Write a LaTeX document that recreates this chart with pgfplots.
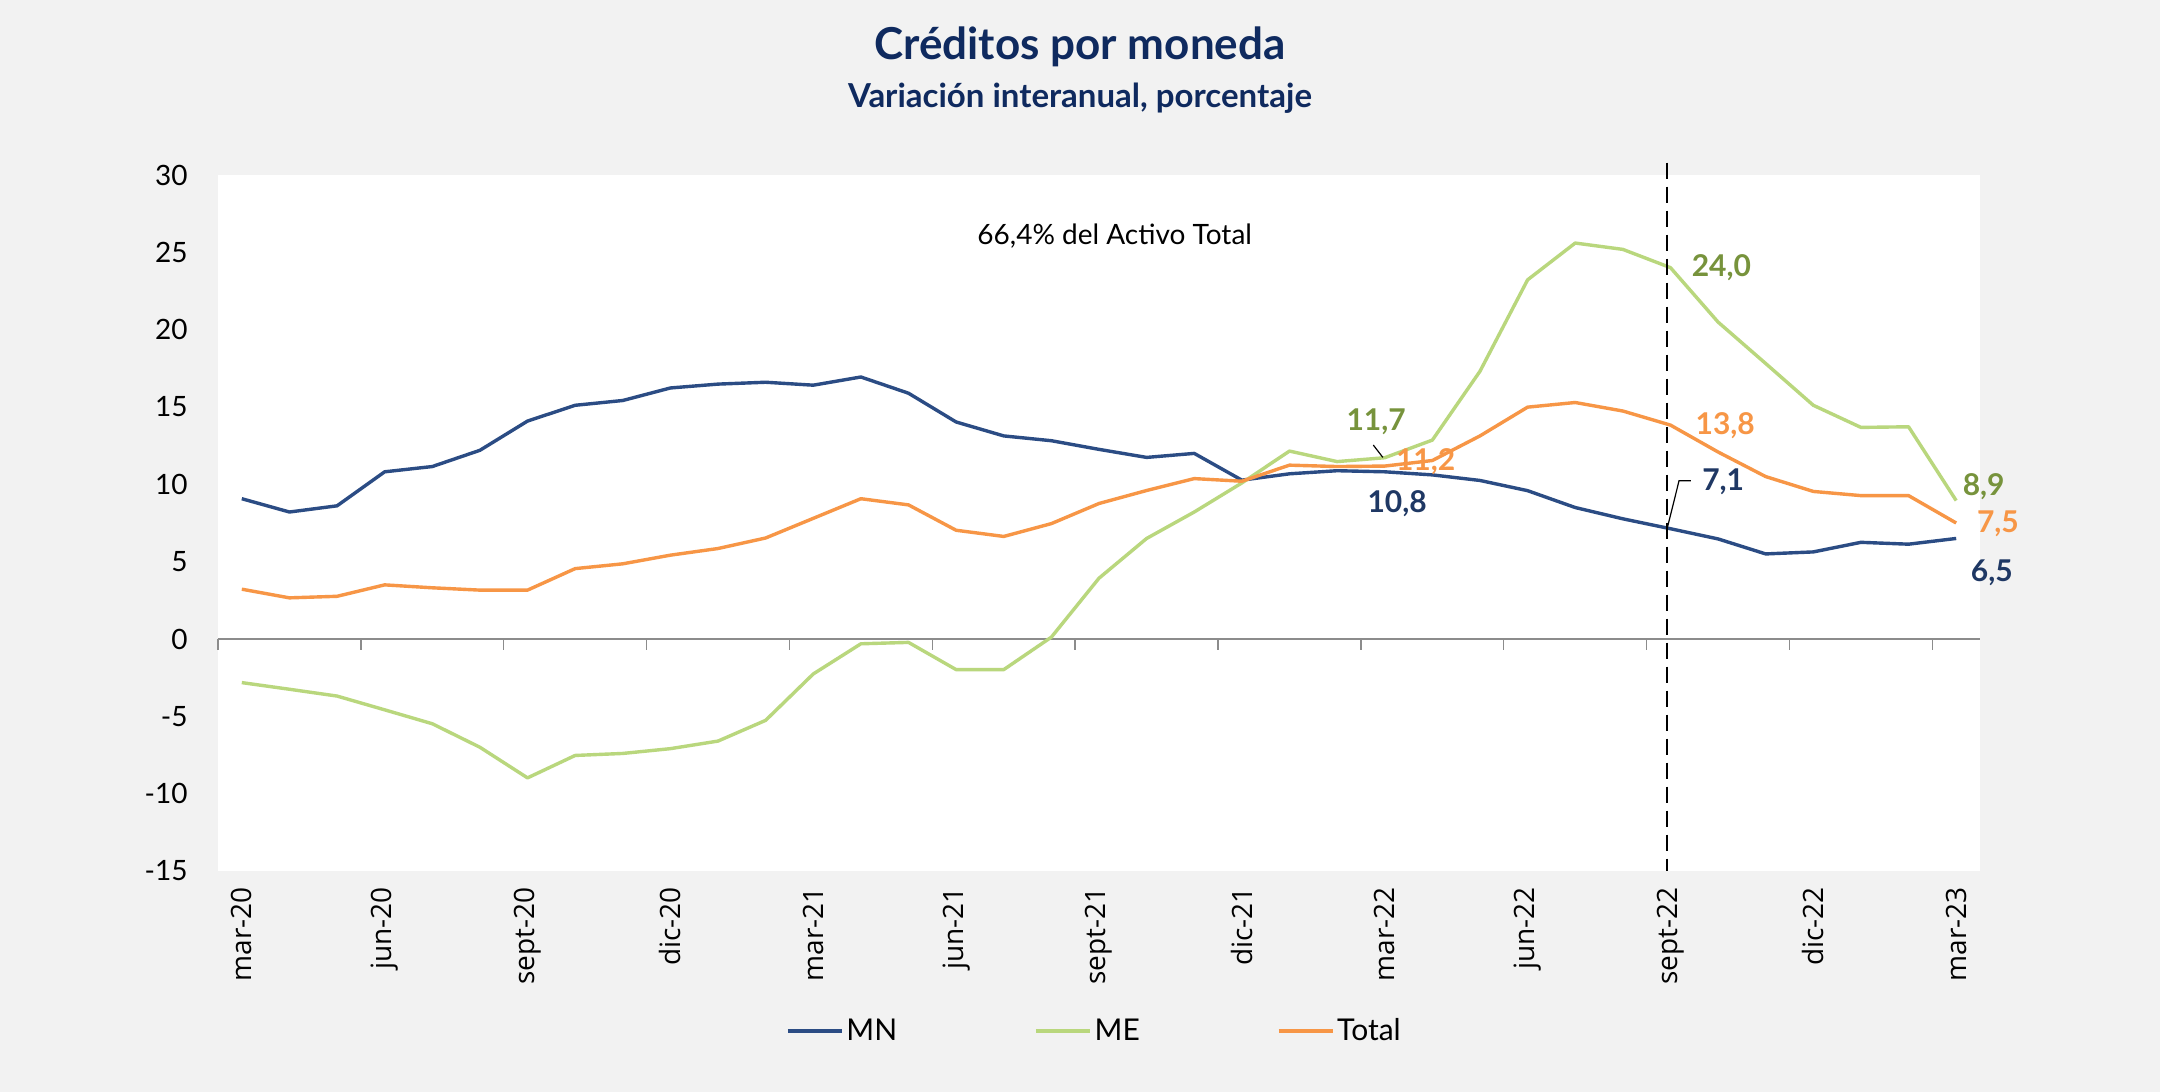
\documentclass[border=0pt]{standalone}
\usepackage{pgfplots}
\pgfplotsset{compat=1.18}
\usepackage{pgfplotstable}
\usepackage{fontspec}
\setmainfont{Lato}
\newfontfamily\xfont{Open Sans}
\definecolor{bg}{HTML}{F2F2F2}
\definecolor{mn}{HTML}{2B4C84}
\definecolor{me}{HTML}{B9D77D}
\definecolor{tot}{HTML}{F79646}
\definecolor{mnlab}{HTML}{1F3864}
\definecolor{melab}{HTML}{77933C}
\definecolor{ttl}{HTML}{0F2A5F}

\pgfplotstableread{
idx MN ME Total
0 9.07 -2.82 3.22
1 8.21 -3.25 2.66
2 8.61 -3.69 2.76
3 10.81 -4.58 3.50
4 11.15 -5.48 3.31
5 12.20 -7.00 3.16
6 14.09 -8.98 3.16
7 15.11 -7.53 4.55
8 15.42 -7.40 4.86
9 16.23 -7.09 5.42
10 16.48 -6.60 5.85
11 16.60 -5.26 6.53
12 16.41 -2.26 7.80
13 16.94 -0.31 9.07
14 15.89 -0.22 8.67
15 14.03 -1.98 7.03
16 13.13 -1.98 6.63
17 12.82 0.12 7.46
18 12.26 3.93 8.76
19 11.74 6.50 9.60
20 12.00 8.21 10.37
21 10.27 10.09 10.20
22 10.68 12.15 11.24
23 10.88 11.47 11.15
24 10.81 11.72 11.18
25 10.61 12.86 11.54
26 10.25 17.31 13.13
27 9.59 23.22 14.99
28 8.50 25.60 15.29
29 7.77 25.19 14.74
30 7.13 24.01 13.83
31 6.47 20.49 12.09
32 5.50 17.81 10.50
33 5.63 15.11 9.54
34 6.25 13.68 9.27
35 6.13 13.72 9.27
36 6.50 8.95 7.50
}\data

\begin{document}
\begin{tikzpicture}
\fill[bg] (0,0) rectangle (1080pt,546pt);
\node[font=\bfseries\fontsize{22}{26}\selectfont, text=ttl, anchor=base] at (540pt,516.4pt) {Créditos por moneda};
\node[font=\bfseries\fontsize{16.5}{19}\selectfont, text=ttl, anchor=base] at (540pt,492.3pt) {Variación interanual, porcentaje};
\begin{axis}[
  at={(109pt,110.5pt)}, anchor=south west,
  scale only axis, width=881pt, height=348pt,
  xmin=-0.5, xmax=36.5, ymin=-15, ymax=30,
  axis line style={draw=none},
  axis background/.style={fill=white},
  xtick={0,3,...,36},
  xticklabels={mar-20,jun-20,sept-20,dic-20,mar-21,jun-21,sept-21,dic-21,mar-22,jun-22,sept-22,dic-22,mar-23},
  ytick={-15,-10,...,30},
  major tick length=0pt,
  tick style={draw=none},
  xticklabel style={rotate=90, anchor=east, font=\xfont\fontsize{14}{16}\selectfont, inner sep=0pt},
  xticklabel shift=8pt,
  yticklabel style={anchor=east, font=\fontsize{14}{16}\selectfont, inner sep=0pt},
  yticklabel shift=15pt,
  /pgf/number format/assume math mode=true,
  clip=false,
  legend columns=3,
  legend image code/.code={\draw[#1] (0pt,0pt) -- (27pt,0pt);},
  legend style={draw=none, fill=none, at={(0.3224,-0.2299)}, anchor=west,
    inner sep=0pt, outer sep=0pt, font=\fontsize{15}{18}\selectfont,
    nodes={inner xsep=1.5pt, inner ysep=1pt},
    /tikz/every even column/.append style={column sep=67pt}},
]
\draw[color=black!45, line width=0.7pt] (axis cs:-0.5,0) -- (axis cs:36.5,0);
\pgfplotsinvokeforeach{0,...,12}{
  \draw[color=black!45, line width=0.7pt] (axis cs:{-0.5+3*#1},0) -- ++(0pt,-5.3pt);
}
\addplot[mn, line width=1.7pt, line join=round] table[x=idx, y=MN] {\data};
\addlegendentry{MN}
\addplot[me, line width=1.7pt, line join=round] table[x=idx, y=ME] {\data};
\addlegendentry{ME}
\addplot[tot, line width=1.7pt, line join=round] table[x=idx, y=Total] {\data};
\addlegendentry{Total}
\draw[black, line width=1.3pt, dash pattern=on 8pt off 4pt] (axis cs:29.93,30.8) -- (axis cs:29.93,-15);
\node[font=\fontsize{14}{16}\selectfont] at (axis cs:18.33,26.06) {66,4\% del Activo Total};
\node[anchor=west, font=\bfseries\fontsize{15}{18}\selectfont, text=melab, inner sep=0pt] at (axis cs:30.44,23.98) {24,0};
\node[anchor=west, font=\bfseries\fontsize{15}{18}\selectfont, text=tot, inner sep=0pt] at (axis cs:30.52,13.8) {13,8};
\node[anchor=west, font=\bfseries\fontsize{15}{18}\selectfont, text=mnlab, inner sep=0pt] at (axis cs:30.66,10.15) {7,1};
\draw[black, line width=0.6pt] (axis cs:29.93,7.13) -- (axis cs:30.18,10.23) -- (axis cs:30.43,10.23);
\node[font=\bfseries\fontsize{15}{18}\selectfont, text=melab, inner sep=0pt] at (axis cs:23.82,14.07) {11,7};
\draw[black, line width=0.6pt] (axis cs:23.76,12.54) -- (axis cs:23.96,11.74);
\node[font=\bfseries\fontsize{15}{18}\selectfont, text=tot, inner sep=0pt] at (axis cs:24.86,11.45) {11,2};
\node[font=\bfseries\fontsize{15}{18}\selectfont, text=mnlab, inner sep=0pt] at (axis cs:24.26,8.75) {10,8};
\node[anchor=west, font=\bfseries\fontsize{15}{18}\selectfont, text=melab, inner sep=0pt] at (axis cs:36.13,9.82) {8,9};
\node[anchor=west, font=\bfseries\fontsize{15}{18}\selectfont, text=tot, inner sep=0pt] at (axis cs:36.43,7.43) {7,5};
\node[anchor=west, font=\bfseries\fontsize{15}{18}\selectfont, text=mnlab, inner sep=0pt] at (axis cs:36.30,4.25) {6,5};
\end{axis}
\end{tikzpicture}
\end{document}
